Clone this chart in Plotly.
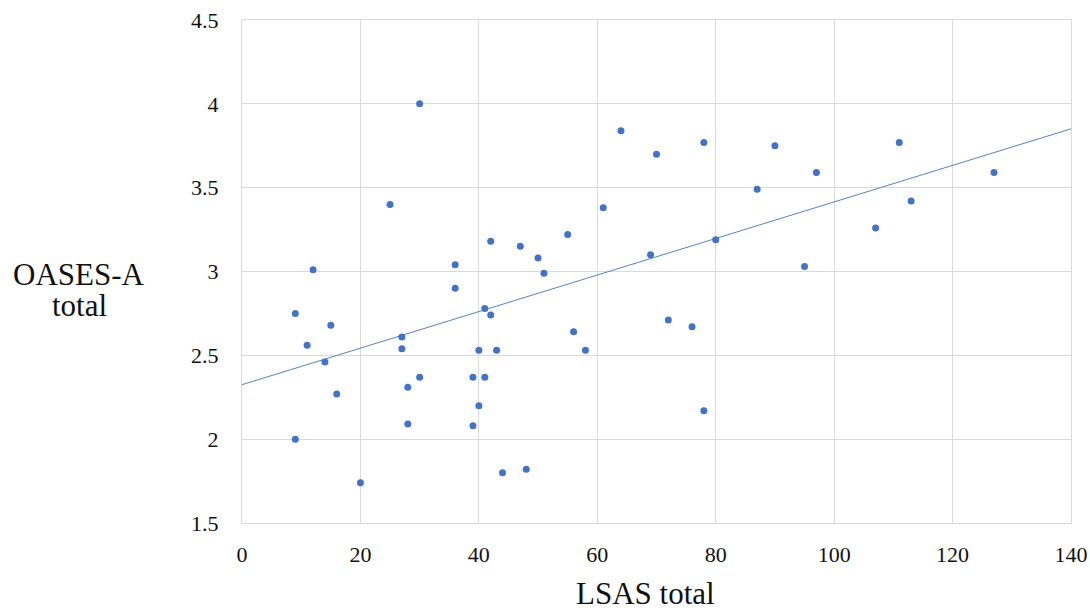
import plotly.graph_objects as go

lsas_total = [9, 9, 11, 12, 14, 15, 16, 20, 25, 27, 27, 28, 28, 30, 30, 36, 36,
              39, 39, 40, 40, 41, 41, 42, 42, 43, 44, 47, 48, 50, 51, 55, 56, 58,
              61, 64, 69, 70, 72, 76, 78, 78, 80, 87, 90, 95, 97, 107, 111, 113, 127]
oases_total = [2.75, 2.00, 2.56, 3.01, 2.46, 2.68, 2.27, 1.74, 3.40, 2.61, 2.54, 2.31, 2.09, 4.00, 2.37, 3.04, 2.90,
               2.37, 2.08, 2.53, 2.20, 2.78, 2.37, 3.18, 2.74, 2.53, 1.80, 3.15, 1.82, 3.08, 2.99, 3.22, 2.64, 2.53,
               3.38, 3.84, 3.10, 3.70, 2.71, 2.67, 3.77, 2.17, 3.19, 3.49, 3.75, 3.03, 3.59, 3.26, 3.77, 3.42, 3.59]

x_ticks = [0, 20, 40, 60, 80, 100, 120, 140]
y_ticks = [1.5, 2, 2.5, 3, 3.5, 4, 4.5]

# linear trendline
trend_intercept = 2.325
trend_slope = 0.0109
trend_x = [x_ticks[0], x_ticks[-1]]
trend_y = [trend_intercept + trend_slope * v for v in trend_x]

FONT = "Liberation Serif"
BLUE = "#4472C4"
GRID = "#d9d9d9"
TXT = "#111111"

fig = go.Figure()
fig.add_trace(go.Scatter(x=trend_x, y=trend_y, mode="lines",
                         line=dict(color="#5b7fbf", width=1), hoverinfo="skip",
                         showlegend=False))
fig.add_trace(go.Scatter(x=lsas_total, y=oases_total, mode="markers",
                         marker=dict(color=BLUE, size=7, line=dict(width=0)),
                         showlegend=False))

fig.update_layout(
    width=1090, height=612,
    margin=dict(l=242, r=19, t=20, b=89),
    paper_bgcolor="white", plot_bgcolor="white",
    font=dict(family=FONT, color=TXT),
    xaxis=dict(range=[0, 140], tickvals=x_ticks, ticktext=[str(v) for v in x_ticks],
               showgrid=True, gridcolor=GRID, gridwidth=1, automargin=False,
               showline=True, linecolor=GRID, linewidth=1, mirror=True,
               zeroline=False, ticks="", ticklabelstandoff=12,
               tickfont=dict(family=FONT, size=22, color=TXT)),
    yaxis=dict(range=[1.5, 4.5], tickvals=y_ticks, ticktext=[f"{v:g}" for v in y_ticks],
               showgrid=True, gridcolor=GRID, gridwidth=1, automargin=False,
               showline=True, linecolor=GRID, linewidth=1, mirror=True,
               zeroline=False, ticks="", ticklabelstandoff=18,
               tickfont=dict(family=FONT, size=22, color=TXT)),
    annotations=[
        dict(text="LSAS total", xref="paper", yref="paper", x=0.4865, y=-70/503,
             xanchor="center", yanchor="middle", showarrow=False,
             font=dict(family=FONT, size=31, color=TXT)),
        dict(text="OASES-A", xref="paper", yref="paper", x=(79 - 242) / 829, y=(523 - 274) / 503,
             xanchor="center", yanchor="middle", showarrow=False,
             font=dict(family=FONT, size=31, color=TXT)),
        dict(text="total", xref="paper", yref="paper", x=(79 - 242) / 829, y=(523 - 306) / 503,
             xanchor="center", yanchor="middle", showarrow=False,
             font=dict(family=FONT, size=31, color=TXT)),
    ],
)

fig.write_html("out.html", config={"displayModeBar": False},
               post_script="document.body.style.margin='0';document.body.style.overflow='hidden';")
